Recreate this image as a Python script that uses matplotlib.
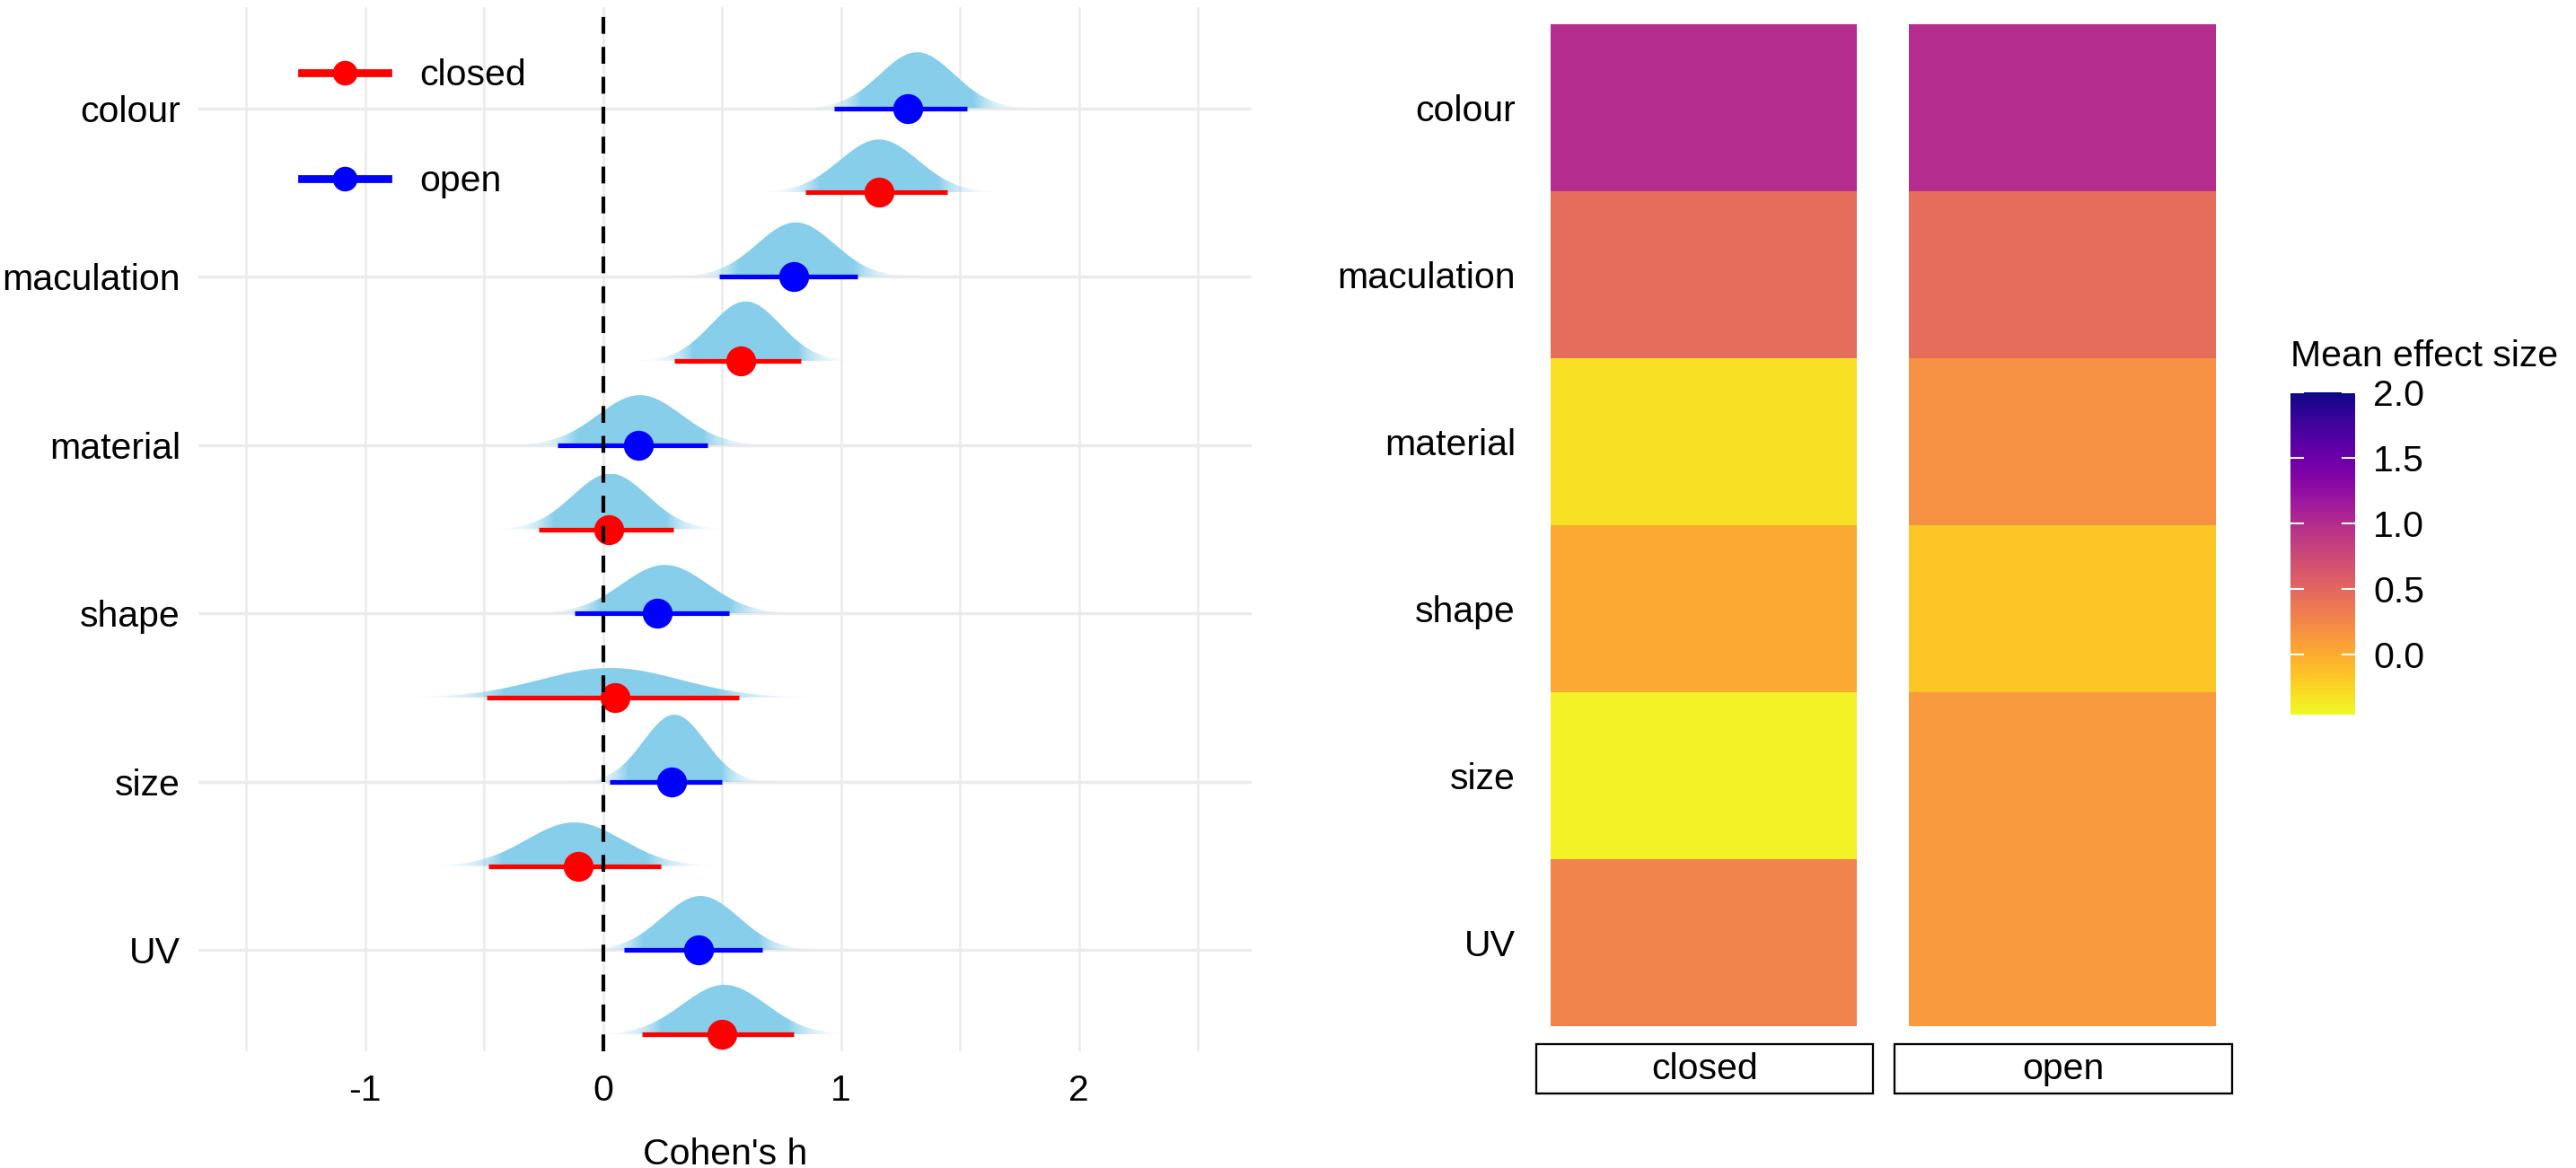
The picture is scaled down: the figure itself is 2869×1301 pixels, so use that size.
import numpy as np
import matplotlib
matplotlib.use("Agg")
import matplotlib.pyplot as plt
from matplotlib.lines import Line2D
from matplotlib.colors import Normalize, to_rgb
from matplotlib.patches import Rectangle, PathPatch
from matplotlib.path import Path

plt.rcParams['font.family'] = ['Liberation Sans', 'DejaVu Sans']

# ---------------- data ----------------
categories = ["colour", "maculation", "material", "shape", "size", "UV"]
groups = ["closed", "open"]

open_mean = [1.28, 0.80, 0.15, 0.23, 0.29, 0.40]
open_lo = [0.97, 0.49, -0.19, -0.12, 0.03, 0.09]
open_hi = [1.53, 1.07, 0.44, 0.53, 0.50, 0.67]
closed_mean = [1.16, 0.58, 0.025, 0.05, -0.105, 0.50]
closed_lo = [0.85, 0.30, -0.27, -0.49, -0.48, 0.165]
closed_hi = [1.445, 0.83, 0.295, 0.57, 0.245, 0.80]

# posterior densities (centre and spread)
open_dens_mu = [1.32, 0.81, 0.155, 0.26, 0.30, 0.41]
open_dens_sd = [0.156, 0.161, 0.175, 0.18, 0.13, 0.161]
closed_dens_mu = [1.16, 0.60, 0.03, 0.03, -0.12, 0.51]
closed_dens_sd = [0.165, 0.147, 0.157, 0.294, 0.20, 0.176]

# heatmap: mean effect size
heat_closed = [1.00, 0.46, -0.32, 0.02, -0.42, 0.28]
heat_open = [1.00, 0.46, 0.18, -0.17, 0.12, 0.12]
cbar_ticks = [0.0, 0.5, 1.0, 1.5, 2.0]
cbar_lim = (-0.46, 2.0)

# ---------------- figure ----------------
W, H = 2869, 1301
DPI = 300
fig = plt.figure(figsize=(W / DPI, H / DPI), dpi=DPI)
FS = 9.85
GRID = "#EBEBEB"


def fr(x0, y0, x1, y1):
    """pixel box (top-left origin) -> figure fraction rect"""
    return [x0 / W, 1 - y1 / H, (x1 - x0) / W, (y1 - y0) / H]


ax = fig.add_axes(fr(221, 8, 1394, 1171))
n = len(categories)
pos = np.arange(n, 0, -1).astype(float)  # colour on top
AREA = 0.13


def draw_density(ax, mu, sd, base):
    xs = np.linspace(mu - 4.5 * sd, mu + 4.5 * sd, 500)
    pdf = np.exp(-0.5 * ((xs - mu) / sd) ** 2) / (sd * np.sqrt(2 * np.pi))
    ys = base + AREA * pdf
    verts = np.vstack([np.column_stack([xs, ys]), [[xs[-1], base], [xs[0], base], [xs[0], ys[0]]]])
    patch = PathPatch(Path(verts), facecolor='none', edgecolor='none', zorder=2)
    ax.add_patch(patch)
    r = pdf / pdf.max()
    alpha = np.clip(r / 0.32, 0, 1)
    img = np.zeros((2, len(xs), 4))
    img[..., :3] = to_rgb('skyblue')
    img[..., 3] = alpha
    im = ax.imshow(img, extent=[xs[0], xs[-1], base, ys.max()], aspect='auto',
                   origin='lower', interpolation='bilinear', zorder=2)
    im.set_clip_path(patch)


for i in range(n):
    draw_density(ax, open_dens_mu[i], open_dens_sd[i], pos[i])
    draw_density(ax, closed_dens_mu[i], closed_dens_sd[i], pos[i] - 0.5)

# intervals and points
ax.hlines(pos, open_lo, open_hi, color='blue', lw=1.25, zorder=4)
ax.hlines(pos - 0.5, closed_lo, closed_hi, color='red', lw=1.25, zorder=4)
ax.plot(open_mean, pos, 'o', color='blue', ms=7, zorder=5, linestyle='none')
ax.plot(closed_mean, pos - 0.5, 'o', color='red', ms=7, zorder=5, linestyle='none')

ax.axvline(0, color='black', lw=1.0, linestyle=(0, (4.5, 3.5)), zorder=6)

ax.set_xlim(-1.70, 2.726)
ax.set_ylim(0.4, 6.6)
ax.set_xticks([-1, 0, 1, 2])
ax.set_xticks([-1.5, -0.5, 0.5, 1.5, 2.5], minor=True)
ax.set_xticklabels(["-1", "0", "1", "2"])
ax.set_yticks(pos)
ax.set_yticklabels(categories)
ax.grid(True, axis='x', which='both', color=GRID, lw=0.6, zorder=0)
ax.grid(True, axis='y', which='major', color=GRID, lw=0.8, zorder=0)
ax.set_axisbelow(True)
for s in ax.spines.values():
    s.set_visible(False)
ax.tick_params(axis='both', which='both', length=0, labelsize=FS, colors='black')
ax.tick_params(axis='y', pad=4.8)
ax.tick_params(axis='x', pad=6.0)
ax.set_xlabel("Cohen's h", fontsize=FS, labelpad=8)

handles = [Line2D([0], [0], color='red', lw=2.1, marker='o', ms=5.6),
           Line2D([0], [0], color='blue', lw=2.1, marker='o', ms=5.6)]
leg = ax.legend(handles, groups, loc='upper left', bbox_to_anchor=(0.098, 0.951),
                frameon=False, fontsize=FS, handlelength=2.35, handletextpad=0.85,
                labelspacing=1.95, borderpad=0, borderaxespad=0)

# ---------------- heatmap ----------------
cmap = plt.get_cmap('plasma_r')
norm = Normalize(vmin=cbar_lim[0], vmax=cbar_lim[1])
edges_y = np.arange(n + 1) + 0.5

panels = [(1711, 2086, heat_closed, "closed"), (2110, 2486, heat_open, "open")]
for k, (x0, x1, vals, lab) in enumerate(panels):
    hx = fig.add_axes(fr(x0, 7, x1, 1163))
    col = np.array(vals)[::-1].reshape(-1, 1)  # bottom row first
    hx.pcolormesh([-0.5, 0.5], edges_y, col, cmap=cmap, norm=norm, shading='flat')
    hx.set_xlim(-0.547, 0.553)
    hx.set_ylim(0.5 - 0.1075, n + 0.5 + 0.1075)
    hx.set_xticks([])
    for s in hx.spines.values():
        s.set_visible(False)
    if k == 0:
        hx.set_yticks(pos)
        hx.set_yticklabels(categories)
        hx.tick_params(axis='y', length=0, labelsize=FS, pad=5.5)
    else:
        hx.set_yticks([])
    # strip at bottom
    fig.add_artist(Rectangle(((x0) / W, 1 - 1218 / H), (x1 - x0) / W, 55 / H,
                             transform=fig.transFigure, facecolor='white',
                             edgecolor='black', lw=0.55))
    fig.text((x0 + x1) / 2 / W, 1 - 1191 / H, lab, ha='center', va='center', fontsize=FS)

# ---------------- colorbar ----------------
cax = fig.add_axes(fr(2551, 437, 2623, 796))
grad = np.linspace(cbar_lim[0], cbar_lim[1], 300).reshape(-1, 1)
cax.imshow(grad, extent=[0, 1, cbar_lim[0], cbar_lim[1]], origin='lower', aspect='auto',
           cmap=cmap, norm=norm, interpolation='bilinear')
cax.set_xlim(0, 1)
cax.set_ylim(cbar_lim)
for t in cbar_ticks:
    cax.plot([0, 0.2], [t, t], color='white', lw=0.5)
    cax.plot([0.8, 1.0], [t, t], color='white', lw=0.5)
cax.set_xticks([])
cax.yaxis.tick_right()
cax.set_yticks(cbar_ticks)
cax.set_yticklabels([f"{t:.1f}" for t in cbar_ticks])
cax.tick_params(axis='y', length=0, labelsize=FS, pad=4.8)
for s in cax.spines.values():
    s.set_visible(False)
fig.text(2551 / W, 1 - 397 / H, "Mean effect size", ha='left', va='center', fontsize=FS)

fig.savefig("out.png", dpi=DPI, facecolor='white')
